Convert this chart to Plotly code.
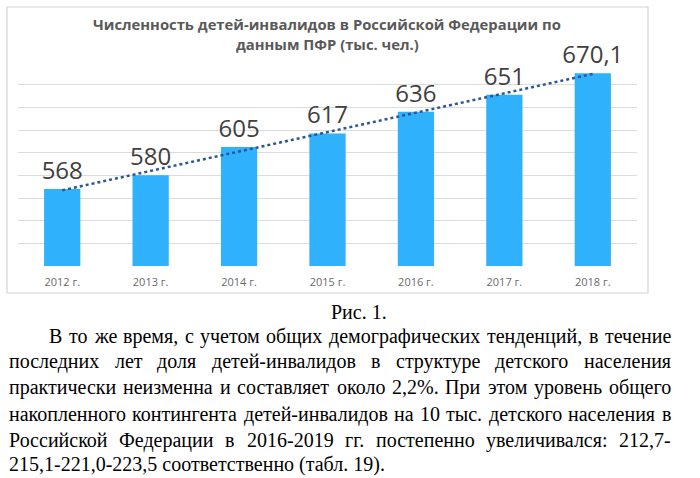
import glob
import numpy as np
import plotly.graph_objects as go

# ---------------- data ----------------
years = ["2012 г.", "2013 г.", "2014 г.", "2015 г.", "2016 г.", "2017 г.", "2018 г."]
values = [568, 580, 605, 617, 636, 651, 670.1]
value_labels = ["568", "580", "605", "617", "636", "651", "670,1"]
title_lines = ["Численность детей-инвалидов в Российской Федерации по",
               "данным ПФР (тыс. чел.)"]
caption = "Рис. 1."
para_lines = [
    "В то же время, с учетом общих демографических тенденций, в течение",
    "последних лет доля детей-инвалидов в структуре детского населения",
    "практически неизменна и составляет около 2,2%. При этом уровень общего",
    "накопленного контингента детей-инвалидов на 10 тыс. детского населения в",
    "Российской Федерации в 2016-2019 гг. постепенно увеличивался: 212,7-",
    "215,1-221,0-223,5 соответственно (табл. 19).",
]

# ---------------- layout geometry ----------------
W, H = 700, 478
L, R, T, B = 18, 63, 62, 212
PW, PH = W - L - R, H - T - B


def px(x):
    return (x - L) / PW


def py(y):
    return (H - B - y) / PH


# linear trend (Excel-style linear trendline)
xi = np.arange(len(values))
k, b0 = np.polyfit(xi, values, 1)
trend = k * xi + b0

fig = go.Figure()
fig.add_trace(go.Bar(
    x=years, y=values, marker_color="#2FB1FC", marker_line_width=0,
    text=value_labels, textposition="outside", cliponaxis=False,
    constraintext="none",
    textfont=dict(family="Open Sans", size=24, color="#404040"),
    hoverinfo="skip",
))
fig.add_trace(go.Scatter(
    x=years, y=trend, mode="lines",
    line=dict(color="#2E5597", width=2.5, dash="dot"),
    hoverinfo="skip",
))

annotations = []
for i, t in enumerate(title_lines):
    annotations.append(dict(
        text="<b>%s</b>" % t, x=px(327), y=py([24, 43.5][i]), xref="paper", yref="paper",
        xanchor="center", yanchor="middle", showarrow=False,
        font=dict(family="Open Sans", size=14.8, color="#595959"),
    ))

annotations.append(dict(
    text=caption, x=px(359), y=py(312), xref="paper", yref="paper",
    xanchor="center", yanchor="middle", showarrow=False,
    font=dict(family="Liberation Serif", size=20, color="#000000"),
))

# ---- paragraph (justified) ----
FS = 20
measure = None
try:
    from PIL import ImageFont
    cands = glob.glob("/usr/share/fonts/**/LiberationSerif-Regular.ttf", recursive=True)
    if cands:
        _f = ImageFont.truetype(cands[0], FS)
        measure = lambda s: _f.getlength(s)
except Exception:
    measure = None

if measure is None:
    def measure(s):
        w = 0.0
        for ch in s:
            if ch == " ":
                w += 0.25
            elif ch in ",.:":
                w += 0.25
            elif ch in "-()":
                w += 0.333
            elif ch == "%":
                w += 0.833
            elif ch.isdigit():
                w += 0.5
            elif ch.isupper():
                w += 0.68
            elif ch in "мшщжюы":
                w += 0.7
            else:
                w += 0.48
        return w * FS

line_y = [338, 363, 389, 416, 442, 466]
left_x = [48, 8, 8, 8, 8, 8]
right_x = 670
for i, line in enumerate(para_lines):
    words = line.split(" ")
    justify = i < len(para_lines) - 1
    if justify and len(words) > 1:
        widths = [measure(w_) for w_ in words]
        gap = (right_x - left_x[i] - sum(widths)) / (len(words) - 1)
        x = left_x[i]
        for w_, wd in zip(words, widths):
            annotations.append(dict(
                text=w_, x=px(x), y=py(line_y[i] - 2), xref="paper", yref="paper",
                xanchor="left", yanchor="middle", showarrow=False, borderpad=0,
                font=dict(family="Liberation Serif", size=FS, color="#000000"),
            ))
            x += wd + gap
    else:
        annotations.append(dict(
            text=line, x=px(left_x[i]), y=py(line_y[i] - 2), xref="paper", yref="paper",
            xanchor="left", yanchor="middle", showarrow=False, borderpad=0,
            font=dict(family="Liberation Serif", size=FS, color="#000000"),
        ))

shapes = [dict(
    type="rect", xref="paper", yref="paper",
    x0=px(7), x1=px(648), y0=py(7), y1=py(293),
    line=dict(color="#D4D4D4", width=1.2), fillcolor="rgba(0,0,0,0)", layer="below",
)]

fig.update_layout(
    width=W, height=H, margin=dict(l=L, r=R, t=T, b=B),
    paper_bgcolor="white", plot_bgcolor="white",
    showlegend=False, bargap=0.59,
    annotations=annotations, shapes=shapes,
    xaxis=dict(
        type="category", showgrid=False, zeroline=False, showline=False,
        ticks="outside", ticklen=6, tickcolor="rgba(0,0,0,0)",
        tickfont=dict(family="Open Sans", size=11, color="#6A6A6A"),
        fixedrange=True,
    ),
    yaxis=dict(
        range=[500, 680], dtick=20, showticklabels=False, showgrid=True,
        gridcolor="#DCDCDC", gridwidth=1, zeroline=False, showline=False,
        fixedrange=True,
    ),
)

fig.write_html("out.html")
